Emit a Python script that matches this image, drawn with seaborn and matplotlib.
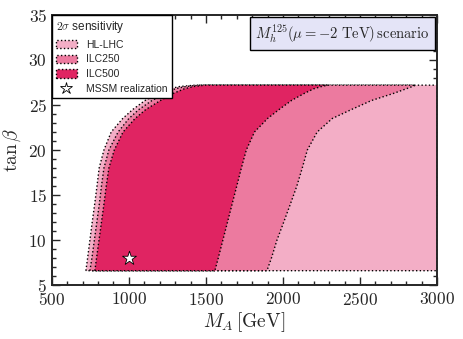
import matplotlib
matplotlib.use('Agg')
import matplotlib.pyplot as plt
from matplotlib.patches import Patch
from matplotlib.lines import Line2D
from matplotlib.offsetbox import AnchoredText
import seaborn as sns
import pandas as pd
import numpy as np

sns.set_style('ticks')
plt.rcParams['font.family'] = 'serif'
plt.rcParams['font.serif'] = ['cmr10', 'DejaVu Serif']
plt.rcParams['mathtext.fontset'] = 'cm'
plt.rcParams['axes.formatter.use_mathtext'] = True

# tan(beta) levels at which the region boundaries were read
tanb = [6.6, 8, 10, 12, 14, 16, 18, 20, 22, 23.5, 24.5, 25.5, 26.3, 26.8, 27.05, 27.2]

# left / right M_A boundaries (GeV) of each 2 sigma region
hllhc_left = [721, 732, 747, 762, 778, 793, 807, 838, 885, 960, 1025, 1105, 1195, 1265, 1330, 1430]
hllhc_right = [3000] * len(tanb)
ilc250_left = [747, 760, 776, 792, 808, 822, 838, 870, 930, 1000, 1065, 1150, 1240, 1300, 1370, 1460]
ilc250_right = [1896, 1925, 1961, 2005, 2048, 2090, 2125, 2158, 2222, 2320, 2445, 2575, 2720, 2800, 2840, 2860]
ilc500_left = [779, 790, 806, 822, 838, 853, 870, 905, 962, 1040, 1110, 1205, 1290, 1360, 1420, 1495]
ilc500_right = [1558, 1580, 1610, 1640, 1670, 1700, 1730, 1762, 1815, 1900, 1975, 2055, 2140, 2200, 2250, 2290]

region_names = ['HL-LHC', 'ILC250', 'ILC500']
region_colors = ['#F3AEC6', '#EC7A9F', '#E02462']

# benchmark point
mssm_ma = [1000]
mssm_tanb = [8]

fig, ax = plt.subplots(figsize=(4.63, 3.39), dpi=100)
fig.subplots_adjust(left=0.112, right=0.944, top=0.956, bottom=0.159)

bounds = [(hllhc_left, hllhc_right), (ilc250_left, ilc250_right), (ilc500_left, ilc500_right)]
for (left, right), col in zip(bounds, region_colors):
    xs = list(left) + list(right)[::-1]
    ys = list(tanb) + list(tanb)[::-1]
    ax.fill(xs, ys, facecolor=col, edgecolor='black', linestyle=':', linewidth=1.0, zorder=2)

pt = pd.DataFrame({'MA': mssm_ma, 'tanb': mssm_tanb})
sns.scatterplot(data=pt, x='MA', y='tanb', marker='*', s=110, color='white',
                edgecolor='black', linewidth=0.6, zorder=5, ax=ax)

ax.set_xlim(500, 3000)
ax.set_ylim(5, 35)
ax.set_xticks(np.arange(500, 3001, 500))
ax.set_xticks(np.arange(500, 3001, 100), minor=True)
ax.set_yticks(np.arange(5, 36, 5))
ax.set_yticks(np.arange(5, 36, 1), minor=True)
ax.tick_params(which='both', direction='in', top=True, right=True, labelsize=12.5, width=1.0)
ax.tick_params(which='major', length=6)
ax.tick_params(which='minor', length=3)
ax.tick_params(axis='x', pad=4.5)
for sp in ax.spines.values():
    sp.set_linewidth(1.4)
ax.set_xlabel(r'$M_A\,[\mathrm{GeV}]$', fontsize=14, labelpad=1)
ax.set_ylabel(r'$\tan\beta$', fontsize=14, labelpad=4)

handles = [Patch(facecolor=c, edgecolor='black', linestyle=':', linewidth=1.0) for c in region_colors]
handles.append(Line2D([], [], marker='*', linestyle='none', markersize=9,
                      markerfacecolor='white', markeredgecolor='black', markeredgewidth=0.6))
labels = region_names + ['MSSM realization']
leg = ax.legend(handles, labels, loc='upper left', borderaxespad=0, title=r'$2\sigma$ sensitivity',
                prop={'family': 'Liberation Sans', 'size': 7.5}, fancybox=False, framealpha=1,
                edgecolor='black', handlelength=2.0, handleheight=0.9, labelspacing=0.45,
                borderpad=0.4, handletextpad=0.9, alignment='left')
leg.get_title().set_fontfamily('Liberation Sans')
leg.get_title().set_fontsize(8.5)
leg.get_frame().set_linewidth(1.0)

at = AnchoredText(r'$M_h^{125}(\mu=-2\ \mathrm{TeV})\,\mathrm{scenario}$', loc='upper right',
                  prop={'size': 10.5}, frameon=True, borderpad=0.15, pad=0.35)
at.patch.set_facecolor('#E4E4F7')
at.patch.set_edgecolor('black')
at.patch.set_linewidth(1.0)
at.patch.set_boxstyle('square', pad=0)
ax.add_artist(at)
at.set_zorder(6)

fig.savefig('out.png', dpi=100)
